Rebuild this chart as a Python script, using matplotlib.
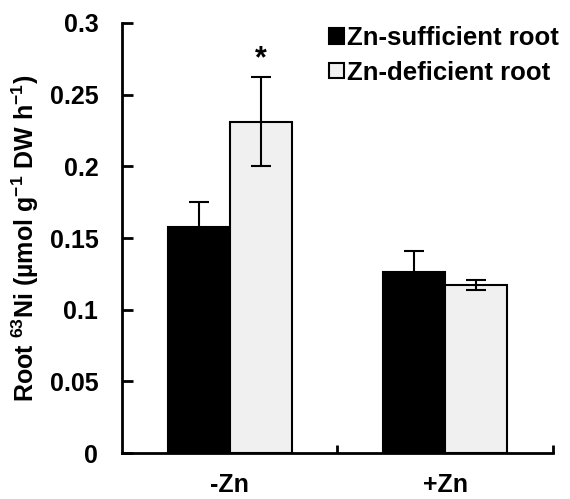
import matplotlib
matplotlib.use('Agg')
import matplotlib.pyplot as plt
import numpy as np

plt.rcParams['font.family'] = 'Liberation Sans'
plt.rcParams['font.weight'] = 'bold'
plt.rcParams['mathtext.fontset'] = 'custom'
plt.rcParams['mathtext.rm'] = 'Liberation Sans:bold'
plt.rcParams['mathtext.bf'] = 'Liberation Sans:bold'
plt.rcParams['mathtext.default'] = 'bf'

# data
groups = ['-Zn', '+Zn']
series = ['Zn-sufficient root', 'Zn-deficient root']
sufficient = [0.158, 0.126]
sufficient_err = [0.017, 0.015]
deficient = [0.231, 0.117]
deficient_err = [0.031, 0.0035]
yticks = [0, 0.05, 0.1, 0.15, 0.2, 0.25, 0.3]
ytick_labels = ['0', '0.05', '0.1', '0.15', '0.2', '0.25', '0.3']

fig = plt.figure(figsize=(5.7, 4.99), dpi=100)
ax = fig.add_axes([0.214, 0.092, 0.756, 0.862])

x = np.arange(len(groups))
w = 0.288
ekw = dict(ecolor='black', elinewidth=1.5, capsize=7, capthick=1.5)
ax.bar(x - w / 2, sufficient, w, yerr=sufficient_err, color='black',
       edgecolor='black', linewidth=1.5, error_kw=ekw, label=series[0])
ax.bar(x + w / 2, deficient, w, yerr=deficient_err, color='#f0f0f0',
       edgecolor='black', linewidth=1.5, error_kw=ekw, label=series[1])

# significance mark
ax.text(x[0] + w / 2, deficient[0] + deficient_err[0] + 0.002, '*',
        ha='center', va='bottom', fontsize=22)

ax.set_xlim(-0.5, 1.5)
ax.set_ylim(0, 0.3)
ax.set_yticks(yticks)
ax.set_yticklabels(ytick_labels)
ax.set_xticks(x)
ax.set_xticklabels(groups)
ax.set_xticks([0.5, 1.5], minor=True)

for s in ['top', 'right']:
    ax.spines[s].set_visible(False)
for s in ['left', 'bottom']:
    ax.spines[s].set_linewidth(2)

ax.tick_params(axis='y', direction='in', length=8, width=2, pad=17, labelsize=18)
ax.tick_params(axis='x', which='major', length=0, pad=14, labelsize=18)
ax.tick_params(axis='x', which='minor', direction='in', length=6, width=2)

ax.set_ylabel(r'Root $^{63}$Ni (µmol g$^{-1}$ DW h$^{-1}$)', fontsize=18,
              fontweight='bold', labelpad=6)

ax.legend(loc='upper left', bbox_to_anchor=(0.578, 0.948), bbox_transform=fig.transFigure,
          frameon=False, fontsize=18.5, handlelength=0.55, handleheight=0.55,
          handletextpad=0.15, labelspacing=0.42, borderpad=0, borderaxespad=0)

fig.savefig('out.png', dpi=100)
